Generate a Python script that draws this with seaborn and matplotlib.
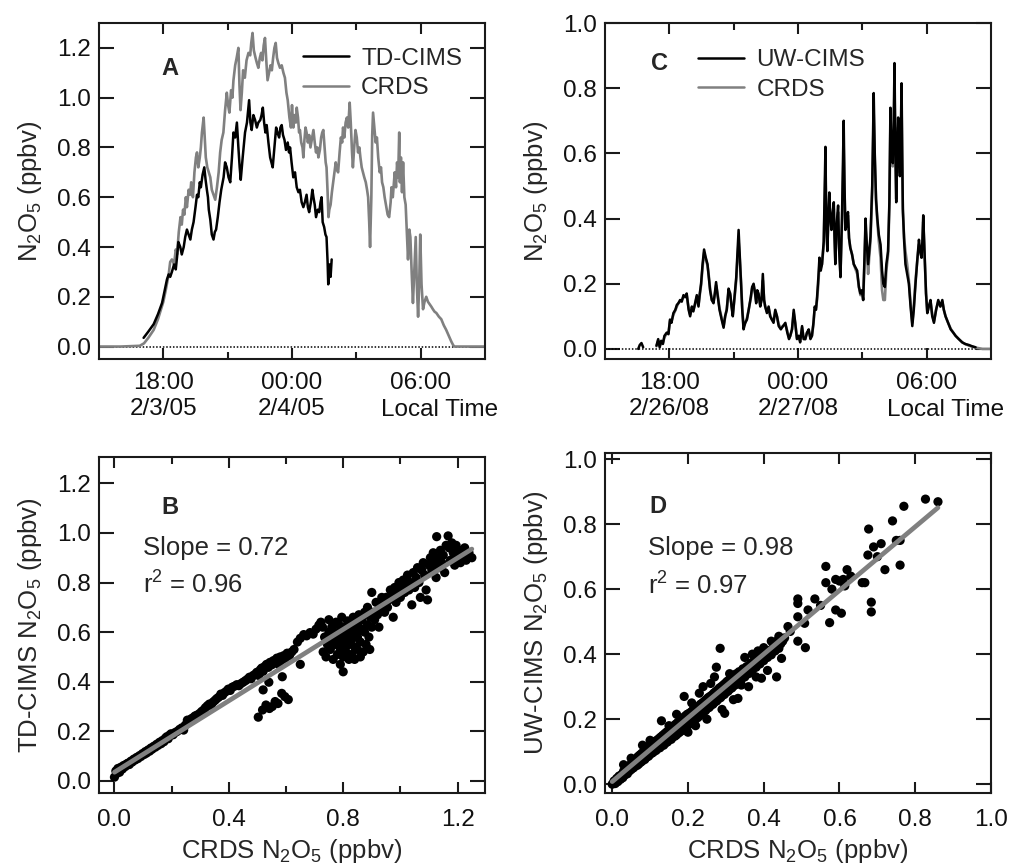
import numpy as np
import pandas as pd
import matplotlib
matplotlib.use("Agg")
import matplotlib.pyplot as plt
from matplotlib.lines import Line2D
from matplotlib.ticker import FormatStrFormatter
import seaborn as sns

sns.set_style("ticks")
plt.rcParams['font.family'] = ['Liberation Sans', 'DejaVu Sans']
plt.rcParams['mathtext.fontset'] = 'custom'
plt.rcParams['mathtext.rm'] = 'Liberation Sans'
plt.rcParams['mathtext.it'] = 'Liberation Sans:italic'
plt.rcParams['mathtext.bf'] = 'Liberation Sans:bold'

# ---------------- data: panel A (hours since 00:00 of 2/3/05, ppbv) ----------------
crds_A = [(15.0,0.0),(16.0,0.0),(16.9,0.003),(17.1,0.013),(17.3,0.035),(17.55,0.067),(17.75,0.11),
 (18.0,0.18),(18.12,0.23),(18.25,0.29),(18.32,0.34),(18.4,0.35),(18.5,0.33),(18.58,0.39),(18.64,0.37),
 (18.72,0.46),(18.8,0.52),(18.86,0.49),(18.92,0.55),(18.98,0.53),(19.05,0.60),(19.1,0.56),(19.18,0.63),
 (19.25,0.61),(19.3,0.66),(19.38,0.60),(19.45,0.70),(19.52,0.76),(19.57,0.78),(19.63,0.72),(19.7,0.76),
 (19.75,0.80),(19.8,0.86),(19.88,0.92),(19.93,0.84),(19.98,0.76),(20.05,0.72),(20.12,0.70),(20.19,0.68),
 (20.26,0.63),(20.34,0.61),(20.42,0.59),(20.5,0.64),(20.58,0.70),(20.65,0.78),(20.72,0.83),(20.8,0.86),
 (20.88,0.95),(20.96,1.02),(21.02,0.97),(21.08,0.94),(21.16,1.03),(21.22,1.00),(21.27,1.07),(21.35,1.13),
 (21.42,1.16),(21.5,1.20),(21.55,1.05),(21.6,0.95),(21.66,1.02),(21.72,1.11),(21.8,1.08),(21.88,1.15),
 (21.97,1.18),(22.05,1.17),(22.1,1.22),(22.16,1.26),(22.22,1.19),(22.3,1.16),(22.36,1.14),(22.43,1.12),
 (22.5,1.16),(22.56,1.18),(22.62,1.15),(22.68,1.21),(22.74,1.24),(22.8,1.15),(22.86,1.07),(22.93,1.10),
 (23.0,1.13),(23.06,1.11),(23.12,1.16),(23.18,1.20),(23.24,1.22),(23.3,1.16),(23.36,1.14),(23.44,1.12),
 (23.52,1.13),(23.6,1.10),(23.67,1.08),(23.74,1.02),(23.8,0.99),(23.88,0.92),(23.95,0.88),(24.0,0.97),
 (24.06,0.88),(24.12,0.93),(24.18,0.90),(24.22,0.96),(24.28,0.92),(24.33,0.86),(24.37,0.87),(24.43,0.82),
 (24.49,0.80),(24.53,0.76),(24.58,0.83),(24.63,0.88),(24.68,0.86),(24.74,0.82),(24.8,0.85),(24.86,0.80),
 (24.92,0.83),(25.0,0.87),(25.06,0.82),(25.12,0.78),(25.18,0.80),(25.23,0.76),(25.3,0.79),(25.36,0.84),
 (25.41,0.86),(25.46,0.87),(25.52,0.80),(25.57,0.74),(25.61,0.72),(25.66,0.62),(25.7,0.52),(25.74,0.55),
 (25.8,0.57),(25.86,0.62),(25.92,0.66),(25.98,0.70),(26.04,0.74),(26.1,0.71),(26.15,0.70),(26.22,0.78),
 (26.28,0.84),(26.34,0.82),(26.38,0.88),(26.44,0.84),(26.5,0.90),(26.56,0.92),(26.62,0.88),(26.69,0.98),
 (26.74,0.90),(26.8,0.78),(26.84,0.72),(26.9,0.80),(26.96,0.87),(27.02,0.84),(27.08,0.78),(27.14,0.80),
 (27.19,0.76),(27.25,0.72),(27.31,0.70),(27.37,0.68),(27.44,0.66),(27.5,0.63),(27.55,0.60),(27.6,0.50),
 (27.64,0.40),(27.7,0.60),(27.74,0.85),(27.78,0.94),(27.84,0.88),(27.9,0.82),(27.96,0.84),(28.02,0.76),
 (28.09,0.70),(28.15,0.72),(28.2,0.66),(28.26,0.64),(28.32,0.60),(28.4,0.56),(28.46,0.53),(28.53,0.52),
 (28.6,0.58),(28.64,0.64),(28.7,0.60),(28.79,0.70),(28.85,0.64),(28.9,0.74),(28.95,0.68),(29.0,0.86),
 (29.03,0.66),(29.08,0.76),(29.13,0.62),(29.18,0.74),(29.24,0.60),(29.3,0.57),(29.36,0.45),(29.41,0.35),
 (29.47,0.47),(29.52,0.44),(29.58,0.30),(29.64,0.175),(29.7,0.30),(29.77,0.44),(29.82,0.25),(29.88,0.12),
 (29.93,0.25),(29.98,0.45),(30.04,0.25),(30.11,0.15),(30.18,0.18),(30.26,0.20),(30.34,0.18),(30.42,0.17),
 (30.5,0.16),(30.57,0.15),(30.65,0.14),(30.73,0.135),(30.85,0.12),(30.96,0.11),(31.08,0.085),(31.19,0.067),
 (31.3,0.045),(31.43,0.02),(31.52,0.005),(31.58,0.0),(33.0,0.0)]

tdcims_A = [(17.08,0.035),(17.3,0.06),(17.55,0.09),(17.75,0.13),(17.94,0.175),(18.05,0.22),(18.17,0.27),
 (18.25,0.29),(18.32,0.28),(18.4,0.30),(18.5,0.33),(18.58,0.31),(18.64,0.36),(18.7,0.42),(18.79,0.40),
 (18.86,0.37),(18.95,0.40),(19.02,0.44),(19.1,0.47),(19.18,0.45),(19.26,0.43),(19.33,0.47),(19.41,0.50),
 (19.5,0.56),(19.57,0.61),(19.63,0.60),(19.7,0.66),(19.75,0.64),(19.83,0.69),(19.91,0.72),(19.97,0.67),
 (20.03,0.63),(20.08,0.60),(20.12,0.55),(20.19,0.51),(20.26,0.45),(20.34,0.43),(20.4,0.46),(20.46,0.47),
 (20.54,0.52),(20.62,0.58),(20.7,0.63),(20.81,0.68),(20.88,0.74),(20.96,0.72),(21.04,0.68),(21.12,0.66),
 (21.2,0.76),(21.27,0.86),(21.35,0.84),(21.43,0.90),(21.5,0.80),(21.56,0.72),(21.61,0.67),(21.7,0.76),
 (21.81,0.86),(21.9,0.90),(22.0,0.99),(22.06,0.90),(22.12,0.87),(22.2,0.93),(22.28,0.91),(22.36,0.88),
 (22.43,0.90),(22.52,0.91),(22.58,0.93),(22.64,0.96),(22.7,0.90),(22.76,0.86),(22.82,0.89),(22.9,0.82),
 (22.98,0.76),(23.04,0.74),(23.1,0.72),(23.18,0.80),(23.26,0.88),(23.32,0.86),(23.4,0.84),(23.46,0.88),
 (23.52,0.89),(23.58,0.85),(23.65,0.83),(23.72,0.79),(23.8,0.82),(23.86,0.78),(23.91,0.80),(23.98,0.74),
 (24.06,0.68),(24.14,0.70),(24.22,0.64),(24.3,0.62),(24.37,0.63),(24.45,0.58),(24.53,0.56),(24.6,0.58),
 (24.68,0.61),(24.74,0.56),(24.8,0.54),(24.88,0.58),(24.95,0.63),(25.0,0.60),(25.06,0.57),(25.12,0.52),
 (25.2,0.55),(25.27,0.54),(25.33,0.58),(25.38,0.60),(25.43,0.50),(25.5,0.48),(25.56,0.45),(25.61,0.44),
 (25.66,0.34),(25.69,0.25),(25.75,0.33),(25.8,0.28),(25.85,0.35)]

# ---------------- data: panel C (hours since 00:00 of 2/26/08, ppbv) ----------------
uwcims_C_seg0 = [(16.55,0.000),(16.62,0.012),(16.7,0.018),(16.78,0.005)]
uwcims_C = [(17.40,0.010),(17.48,0.030),(17.55,0.005),(17.62,0.025),(17.70,0.015),(17.77,0.040),(17.88,0.050),
 (17.96,0.045),(18.03,0.090),(18.10,0.080),(18.19,0.110),(18.28,0.120),(18.35,0.135),(18.42,0.140),(18.50,0.150),
 (18.58,0.145),(18.66,0.165),(18.74,0.160),(18.81,0.170),(18.90,0.120),(18.97,0.100),(19.05,0.130),(19.12,0.115),
 (19.20,0.140),(19.28,0.165),(19.36,0.130),(19.42,0.170),(19.48,0.200),(19.55,0.260),(19.62,0.305),(19.70,0.280),
 (19.78,0.260),(19.84,0.220),(19.90,0.180),(19.98,0.150),(20.06,0.140),(20.12,0.170),(20.18,0.205),(20.26,0.160),
 (20.34,0.120),(20.44,0.090),(20.53,0.065),(20.60,0.100),(20.68,0.120),(20.76,0.185),(20.84,0.170),(20.90,0.130),
 (20.96,0.100),(21.04,0.160),(21.12,0.220),(21.18,0.300),(21.23,0.365),(21.29,0.280),(21.35,0.200),(21.40,0.120),
 (21.46,0.060),(21.54,0.080),(21.62,0.090),(21.70,0.120),(21.80,0.160),(21.86,0.190),(21.93,0.200),(22.00,0.170),
 (22.05,0.140),(22.10,0.180),(22.16,0.170),(22.24,0.130),(22.30,0.150),(22.36,0.230),(22.42,0.150),(22.47,0.130),
 (22.55,0.110),(22.63,0.130),(22.70,0.100),(22.78,0.090),(22.86,0.080),(22.94,0.120),(23.02,0.100),(23.10,0.070),
 (23.20,0.060),(23.30,0.070),(23.41,0.080),(23.50,0.050),(23.58,0.030),(23.64,0.040),(23.72,0.060),(23.80,0.120),
 (23.87,0.080),(23.95,0.030),(24.03,0.040),(24.10,0.020),(24.19,0.070),(24.26,0.030),(24.34,0.030),(24.42,0.050),
 (24.50,0.060),(24.58,0.030),(24.65,0.040),(24.72,0.080),(24.78,0.130),(24.84,0.120),(24.89,0.160),(24.95,0.220),
 (25.00,0.280),(25.06,0.240),(25.12,0.260),(25.20,0.330),(25.28,0.620),(25.32,0.380),(25.37,0.300),(25.42,0.420),
 (25.46,0.480),(25.51,0.400),(25.56,0.365),(25.62,0.420),(25.67,0.450),(25.70,0.350),(25.74,0.260),(25.80,0.380),
 (25.87,0.440),(25.92,0.300),(25.98,0.220),(26.05,0.400),(26.13,0.700),(26.17,0.500),(26.21,0.365),(26.27,0.380),
 (26.33,0.420),(26.38,0.340),(26.44,0.310),(26.52,0.290),(26.60,0.260),(26.68,0.250),(26.76,0.240),(26.84,0.190),
 (26.91,0.170),(26.98,0.180),(27.04,0.150),(27.10,0.280),(27.15,0.400),(27.21,0.320),(27.27,0.260),(27.32,0.300),
 (27.38,0.345),(27.46,0.500),(27.53,0.785),(27.58,0.600),(27.64,0.460),(27.70,0.400),(27.77,0.350),(27.85,0.320),
 (27.92,0.240),(27.98,0.200),(28.05,0.190),(28.12,0.260),(28.20,0.300),(28.26,0.450),(28.31,0.740),(28.36,0.620),
 (28.42,0.570),(28.46,0.680),(28.50,0.877),(28.54,0.620),(28.58,0.450),(28.62,0.600),(28.67,0.710),(28.71,0.600),
 (28.75,0.530),(28.79,0.650),(28.83,0.815),(28.86,0.600),(28.89,0.430),(28.95,0.330),(29.01,0.260),(29.09,0.230),
 (29.17,0.200),(29.25,0.130),(29.33,0.070),(29.40,0.120),(29.48,0.200),(29.56,0.270),(29.64,0.335),(29.70,0.300),
 (29.76,0.280),(29.80,0.330),(29.84,0.410),(29.88,0.330),(29.92,0.260),(29.97,0.170),(30.03,0.110),(30.10,0.130),
 (30.18,0.150),(30.26,0.100),(30.34,0.080),(30.44,0.120),(30.54,0.150),(30.64,0.130),(30.73,0.150),(30.80,0.120),
 (30.88,0.100),(31.00,0.080),(31.12,0.060),(31.24,0.050),(31.35,0.040),(31.50,0.030),(31.66,0.020),(31.80,0.015),
 (31.97,0.012),(32.12,0.008),(32.28,0.005)]

crds_C = [(17.40,0.008),(17.48,0.025),(17.55,0.008),(17.62,0.022),(17.70,0.018),(17.77,0.035),(17.88,0.048),
 (17.96,0.050),(18.03,0.085),(18.10,0.085),(18.19,0.105),(18.28,0.118),(18.35,0.130),(18.42,0.140),(18.50,0.145),
 (18.58,0.150),(18.66,0.160),(18.74,0.158),(18.81,0.165),(18.90,0.125),(18.97,0.105),(19.05,0.125),(19.12,0.120),
 (19.20,0.135),(19.28,0.160),(19.36,0.135),(19.42,0.165),(19.48,0.195),(19.55,0.250),(19.62,0.295),(19.70,0.275),
 (19.78,0.255),(19.84,0.225),(19.90,0.185),(19.98,0.150),(20.06,0.145),(20.12,0.165),(20.18,0.195),(20.26,0.165),
 (20.34,0.125),(20.44,0.095),(20.53,0.070),(20.60,0.095),(20.68,0.125),(20.76,0.175),(20.84,0.165),(20.90,0.135),
 (20.96,0.105),(21.04,0.155),(21.12,0.210),(21.18,0.280),(21.23,0.330),(21.29,0.270),(21.35,0.200),(21.40,0.125),
 (21.46,0.070),(21.54,0.080),(21.62,0.095),(21.70,0.120),(21.80,0.155),(21.86,0.185),(21.93,0.195),(22.00,0.170),
 (22.05,0.145),(22.10,0.175),(22.16,0.165),(22.24,0.135),(22.30,0.150),(22.36,0.210),(22.42,0.150),(22.47,0.130),
 (22.55,0.115),(22.63,0.125),(22.70,0.105),(22.78,0.090),(22.86,0.085),(22.94,0.115),(23.02,0.100),(23.10,0.075),
 (23.20,0.065),(23.30,0.070),(23.41,0.075),(23.50,0.055),(23.58,0.035),(23.64,0.040),(23.72,0.060),(23.80,0.110),
 (23.87,0.080),(23.95,0.035),(24.03,0.040),(24.10,0.025),(24.19,0.065),(24.26,0.035),(24.34,0.030),(24.42,0.050),
 (24.50,0.055),(24.58,0.035),(24.65,0.040),(24.72,0.075),(24.78,0.125),(24.84,0.125),(24.89,0.150),(24.95,0.200),
 (25.00,0.260),(25.06,0.250),(25.12,0.260),(25.20,0.320),(25.28,0.550),(25.32,0.390),(25.37,0.310),(25.42,0.400),
 (25.46,0.450),(25.51,0.400),(25.56,0.370),(25.62,0.410),(25.67,0.430),(25.70,0.350),(25.74,0.270),(25.80,0.370),
 (25.87,0.420),(25.92,0.310),(25.98,0.230),(26.05,0.380),(26.13,0.620),(26.17,0.480),(26.21,0.370),(26.27,0.380),
 (26.33,0.410),(26.38,0.340),(26.44,0.310),(26.52,0.290),(26.60,0.260),(26.68,0.245),(26.76,0.230),(26.84,0.190),
 (26.91,0.165),(26.98,0.175),(27.04,0.150),(27.10,0.260),(27.15,0.370),(27.21,0.300),(27.27,0.230),(27.32,0.280),
 (27.38,0.330),(27.46,0.480),(27.53,0.720),(27.58,0.580),(27.64,0.450),(27.70,0.390),(27.77,0.330),(27.85,0.280),
 (27.92,0.180),(27.98,0.150),(28.05,0.150),(28.12,0.240),(28.20,0.290),(28.26,0.430),(28.31,0.690),(28.36,0.600),
 (28.42,0.560),(28.46,0.650),(28.50,0.800),(28.54,0.610),(28.58,0.460),(28.62,0.590),(28.67,0.680),(28.71,0.600),
 (28.75,0.540),(28.79,0.630),(28.83,0.740),(28.86,0.580),(28.89,0.420),(28.95,0.340),(29.01,0.300),(29.09,0.260),
 (29.17,0.210),(29.25,0.140),(29.33,0.080),(29.40,0.130),(29.48,0.210),(29.56,0.270),(29.64,0.320),(29.70,0.300),
 (29.76,0.280),(29.80,0.320),(29.84,0.390),(29.88,0.330),(29.92,0.260),(29.97,0.170),(30.03,0.110),(30.10,0.130),
 (30.18,0.145),(30.26,0.105),(30.34,0.085),(30.44,0.120),(30.54,0.145),(30.64,0.130),(30.73,0.145),(30.80,0.120),
 (30.88,0.100),(31.00,0.080),(31.12,0.062),(31.24,0.050),(31.35,0.040),(31.50,0.030),(31.66,0.020),(31.80,0.015),
 (31.97,0.010),(32.12,0.007),(32.28,0.004),(32.45,0.002),(32.6,0.0),(33.0,0.0)]

# ---------------- data: panel B scatter (CRDS, TD-CIMS) ----------------
scatter_B = [(0.000,0.015),(0.005,0.040),(0.008,0.030),(0.012,0.050),(0.018,0.035),(0.022,0.055),(0.028,0.048),
 (0.032,0.062),(0.038,0.058),(0.042,0.068),(0.048,0.072),(0.052,0.066),(0.058,0.080),(0.062,0.076),(0.068,0.088),
 (0.072,0.084),(0.078,0.095),(0.082,0.090),(0.088,0.102),(0.092,0.098),(0.098,0.110),(0.103,0.106),(0.108,0.118),
 (0.112,0.112),(0.118,0.125),(0.123,0.120),(0.128,0.133),(0.132,0.128),(0.138,0.140),(0.143,0.136),(0.148,0.148),
 (0.152,0.143),(0.158,0.156),(0.163,0.150),(0.168,0.163),(0.173,0.158),(0.178,0.172),(0.183,0.178),(0.188,0.170),
 (0.193,0.185),(0.198,0.190),(0.205,0.186),(0.212,0.195),(0.220,0.200),(0.228,0.208),(0.236,0.214),(0.242,0.205),
 (0.248,0.225),(0.255,0.245),(0.262,0.238),(0.268,0.250),(0.275,0.255),(0.282,0.262),(0.290,0.266),(0.298,0.272),
 (0.305,0.280),(0.312,0.286),(0.318,0.295),(0.325,0.303),(0.332,0.310),(0.338,0.305),(0.345,0.318),(0.352,0.325),
 (0.358,0.332),(0.365,0.338),(0.372,0.350),(0.378,0.345),(0.385,0.356),(0.392,0.362),(0.398,0.370),(0.405,0.365),
 (0.412,0.378),(0.420,0.382),(0.428,0.388),(0.435,0.384),(0.442,0.392),(0.450,0.398),(0.458,0.404),(0.465,0.410),
 (0.472,0.418),(0.478,0.412),(0.485,0.425),(0.492,0.430),(0.498,0.438),(0.505,0.425),(0.510,0.448),(0.515,0.455),
 (0.520,0.442),(0.526,0.462),(0.532,0.470),(0.538,0.458),(0.544,0.478),(0.550,0.468),(0.556,0.485),(0.562,0.478),
 (0.568,0.495),(0.574,0.470),(0.580,0.500),(0.586,0.488),(0.592,0.505),(0.598,0.495),(0.604,0.515),(0.612,0.505),
 (0.620,0.520),(0.628,0.530),(0.640,0.560),(0.650,0.575),(0.662,0.590),(0.672,0.585),(0.684,0.598),(0.695,0.592),
 (0.705,0.612),(0.715,0.628),(0.722,0.640),(0.728,0.620),
 (0.503,0.257),(0.518,0.286),(0.530,0.306),(0.542,0.292),(0.552,0.300),(0.562,0.320),(0.572,0.312),(0.585,0.353),
 (0.596,0.340),(0.608,0.328),(0.520,0.367),(0.587,0.420),(0.650,0.470),(0.540,0.398),
 (0.73,0.52),(0.735,0.58),(0.74,0.50),(0.745,0.55),(0.75,0.60),(0.75,0.65),(0.755,0.53),(0.76,0.57),(0.76,0.62),
 (0.765,0.49),(0.77,0.55),(0.77,0.60),(0.775,0.64),(0.78,0.51),(0.78,0.56),(0.785,0.585),(0.785,0.63),(0.79,0.47),
 (0.79,0.53),(0.79,0.57),(0.795,0.61),(0.795,0.66),(0.80,0.44),(0.80,0.50),(0.80,0.545),(0.805,0.58),(0.805,0.62),
 (0.81,0.52),(0.81,0.56),(0.815,0.60),(0.815,0.645),(0.82,0.49),(0.82,0.55),(0.825,0.59),(0.825,0.63),(0.83,0.51),
 (0.83,0.57),(0.835,0.61),(0.835,0.66),(0.84,0.49),(0.84,0.54),(0.845,0.60),(0.845,0.64),(0.85,0.53),(0.85,0.58),
 (0.855,0.62),(0.855,0.67),(0.86,0.50),(0.86,0.56),(0.865,0.61),(0.865,0.65),(0.87,0.52),(0.875,0.60),(0.875,0.68),
 (0.88,0.55),(0.885,0.63),(0.885,0.70),(0.89,0.58),(0.893,0.53),(0.895,0.66),(0.90,0.76),
 (0.90,0.62),(0.905,0.68),(0.91,0.65),(0.915,0.72),(0.92,0.67),(0.925,0.62),(0.93,0.70),(0.935,0.74),(0.94,0.72),
 (0.945,0.68),(0.95,0.74),(0.955,0.70),(0.96,0.73),(0.965,0.77),(0.97,0.75),(0.975,0.66),(0.98,0.78),(0.985,0.72),
 (0.99,0.76),(0.995,0.80),(1.00,0.74),(1.005,0.78),(1.01,0.81),(1.015,0.76),(1.02,0.79),(1.025,0.83),(1.03,0.77),
 (1.035,0.80),(1.04,0.71),(1.045,0.84),(1.05,0.78),(1.055,0.82),(1.06,0.86),(1.065,0.80),(1.07,0.74),(1.075,0.85),
 (1.08,0.88),(1.085,0.83),(1.09,0.77),(1.095,0.73),(1.10,0.87),(1.105,0.90),(1.11,0.85),(1.115,0.92),(1.12,0.88),
 (1.125,0.82),(1.127,0.985),(1.13,0.90),(1.135,0.86),(1.14,0.93),(1.145,0.88),(1.15,0.91),(1.155,0.84),(1.16,0.95),
 (1.167,0.988),(1.17,0.94),(1.175,0.89),(1.18,0.96),(1.185,0.92),(1.19,0.87),(1.195,0.95),(1.20,0.90),(1.205,0.93),
 (1.21,0.88),(1.22,0.91),(1.225,0.94),(1.23,0.89),(1.24,0.92),(1.25,0.90)]

# ---------------- data: panel D scatter (CRDS, UW-CIMS) ----------------
scatter_D = [(0.000,0.000),(0.005,0.010),(0.008,0.002),(0.012,0.018),(0.015,0.008),(0.018,0.025),(0.022,0.015),
 (0.025,0.030),(0.028,0.020),(0.030,0.040),(0.033,0.028),(0.036,0.045),(0.040,0.032),(0.042,0.055),(0.045,0.040),
 (0.048,0.060),(0.050,0.045),(0.053,0.065),(0.056,0.050),(0.058,0.070),(0.060,0.055),(0.063,0.075),(0.066,0.058),
 (0.068,0.085),(0.070,0.062),(0.073,0.090),(0.076,0.068),(0.078,0.095),(0.080,0.072),(0.083,0.100),(0.086,0.076),
 (0.088,0.108),(0.090,0.082),(0.093,0.112),(0.096,0.086),(0.098,0.118),(0.100,0.092),(0.103,0.122),(0.106,0.096),
 (0.108,0.128),(0.110,0.100),(0.113,0.132),(0.116,0.104),(0.118,0.135),(0.120,0.110),(0.123,0.140),(0.126,0.112),
 (0.128,0.145),(0.130,0.118),(0.133,0.150),(0.136,0.120),(0.138,0.155),(0.140,0.126),(0.143,0.160),(0.146,0.130),
 (0.148,0.165),(0.150,0.136),(0.153,0.170),(0.156,0.138),(0.158,0.175),(0.160,0.145),(0.163,0.180),(0.166,0.148),
 (0.168,0.185),(0.170,0.152),(0.173,0.190),(0.176,0.158),(0.178,0.195),(0.180,0.162),(0.183,0.200),(0.186,0.166),
 (0.188,0.205),(0.190,0.172),(0.193,0.210),(0.196,0.176),(0.198,0.215),(0.200,0.182),(0.203,0.218),(0.206,0.186),
 (0.208,0.222),(0.210,0.192),(0.213,0.228),(0.216,0.196),(0.218,0.232),(0.220,0.200),(0.223,0.236),(0.226,0.205),
 (0.228,0.240),(0.230,0.210),(0.233,0.246),(0.236,0.214),(0.238,0.250),(0.240,0.220),(0.243,0.255),(0.246,0.226),
 (0.248,0.260),(0.250,0.232),(0.253,0.266),(0.256,0.236),(0.258,0.270),(0.260,0.242),(0.263,0.274),(0.266,0.246),
 (0.268,0.280),(0.270,0.252),(0.273,0.285),(0.276,0.256),(0.278,0.290),(0.280,0.262),(0.283,0.296),(0.286,0.266),
 (0.288,0.300),(0.290,0.272),(0.293,0.305),(0.296,0.276),(0.298,0.310),(0.300,0.282),(0.303,0.316),(0.306,0.286),
 (0.308,0.320),(0.310,0.292),(0.313,0.326),(0.316,0.296),(0.318,0.330),(0.320,0.302),(0.323,0.336),(0.326,0.306),
 (0.328,0.340),(0.330,0.312),(0.335,0.346),(0.340,0.320),(0.345,0.355),(0.350,0.330),(0.355,0.362),(0.360,0.340),
 (0.365,0.372),(0.370,0.350),(0.375,0.382),(0.380,0.360),(0.385,0.390),(0.390,0.370),(0.395,0.398),(0.400,0.380),
 (0.405,0.405),(0.410,0.390),(0.415,0.412),(0.420,0.398),(0.425,0.420),(0.430,0.410),(0.435,0.428),(0.440,0.418),
 (0.445,0.432),(0.450,0.440),
 (0.030,0.060),(0.050,0.080),(0.080,0.120),(0.100,0.135),(0.130,0.195),(0.150,0.180),(0.170,0.215),(0.190,0.270),
 (0.200,0.160),(0.210,0.250),(0.220,0.180),(0.230,0.280),(0.240,0.300),(0.250,0.200),(0.260,0.310),(0.270,0.330),
 (0.275,0.360),(0.285,0.418),(0.290,0.230),(0.297,0.218),(0.310,0.340),(0.320,0.260),(0.332,0.264),(0.341,0.305),
 (0.350,0.390),(0.360,0.300),(0.370,0.400),(0.380,0.330),(0.385,0.410),(0.394,0.326),(0.400,0.420),(0.410,0.350),
 (0.420,0.440),(0.434,0.330),(0.438,0.444),(0.447,0.387),(0.440,0.455),(0.455,0.450),(0.464,0.485),(0.470,0.470),
 (0.490,0.440),(0.490,0.515),(0.490,0.556),(0.490,0.570),(0.508,0.495),(0.510,0.420),(0.517,0.536),(0.535,0.570),
 (0.550,0.550),(0.564,0.620),(0.564,0.670),(0.574,0.497),(0.580,0.600),(0.590,0.536),(0.590,0.630),(0.600,0.625),
 (0.605,0.526),(0.610,0.630),(0.614,0.610),(0.620,0.660),(0.630,0.640),(0.660,0.620),(0.667,0.620),(0.675,0.705),
 (0.677,0.785),(0.684,0.560),(0.684,0.530),(0.690,0.730),(0.700,0.700),(0.710,0.740),(0.720,0.660),(0.740,0.810),
 (0.750,0.750),(0.760,0.674),(0.760,0.750),(0.770,0.855),(0.827,0.877),(0.860,0.869)]

fit_B = {"slope": 0.72, "intercept": 0.035, "r2": 0.96}
fit_D = {"slope": 0.98, "intercept": 0.008, "r2": 0.97}

date_labels_A = ["18:00\n2/3/05", "00:00\n2/4/05", "06:00"]
date_labels_C = ["18:00\n2/26/08", "00:00\n2/27/08", "06:00"]

GRAY = "#808080"
FS_TICK = 17.5
FS_LAB = 18.5
FS_LETTER = 17

fig = plt.figure(figsize=(10.11, 8.63), dpi=100)
W, H = 1011.0, 863.0
axA = fig.add_axes([99/W, 1-359/H, 386/W, 336/H])
axC = fig.add_axes([605/W, 1-359/H, 386/W, 336/H])
axB = fig.add_axes([99/W, 1-793.3/H, 386/W, 336/H])
axD = fig.add_axes([605/W, 1-793.3/H, 386/W, 340/H])


def style(ax, xpad):
    for s in ax.spines.values():
        s.set_linewidth(1.5)
        s.set_color("#1a1a1a")
        s.set_visible(True)
    ax.tick_params(which="both", direction="in", top=True, right=True,
                   color="#1a1a1a", width=1.5, labelsize=FS_TICK, labelcolor="#111111")
    ax.tick_params(axis="y", which="major", length=11, pad=6)
    ax.tick_params(axis="x", which="major", length=8, pad=xpad)
    ax.tick_params(axis="x", which="minor", length=5)
    ax.yaxis.set_major_formatter(FormatStrFormatter("%.1f"))


def df_of(pairs, unit=0):
    d = pd.DataFrame(pairs, columns=["t", "v"])
    d["u"] = unit
    return d


def time_panel(ax, crds, cims_list, cims_label, labels, letter, letter_pos, leg_pos, ylim, yticks):
    ax.axhline(0, color="black", lw=1.1, ls=(0, (1.0, 1.2)), zorder=1)
    sns.lineplot(data=df_of(crds), x="t", y="v", color=GRAY, lw=1.9, estimator=None,
                 sort=False, legend=False, ax=ax, zorder=2)
    cims = pd.concat([df_of(p, i) for i, p in enumerate(cims_list)], ignore_index=True)
    sns.lineplot(data=cims, x="t", y="v", units="u", color="black", lw=1.8, estimator=None,
                 sort=False, legend=False, ax=ax, zorder=3)
    ax.set_xlim(15, 33)
    ax.set_ylim(*ylim)
    ax.set_xticks([18, 24, 30])
    ax.set_xticklabels(labels)
    ax.set_xticks([21, 27], minor=True)
    ax.set_yticks(yticks)
    style(ax, 9.5)
    ax.set_xlabel("")
    ax.set_ylabel(r"N$_2$O$_5$ (ppbv)", fontsize=FS_LAB, labelpad=9)
    ax.text(30.9, -0.152, "Local Time", transform=ax.get_xaxis_transform(),
            ha="center", va="center", fontsize=FS_TICK, color="#111111")
    ax.text(letter_pos[0], letter_pos[1], letter, transform=ax.transAxes, fontsize=FS_LETTER,
            fontweight="bold", ha="center", va="center")
    handles = [Line2D([], [], color="black", lw=1.8), Line2D([], [], color=GRAY, lw=1.8)]
    ax.legend(handles, [cims_label, "CRDS"], loc="upper left", bbox_to_anchor=leg_pos,
              frameon=False, fontsize=FS_TICK, handlelength=1.9, handletextpad=0.5,
              labelspacing=0.3, borderaxespad=0, borderpad=0)


def scatter_panel(ax, pts, fit, letter, letter_pos, text_pos, xlim, ylim, xticks, xminor, yticks, ylab):
    d = pd.DataFrame(pts, columns=["x", "y"])
    sns.scatterplot(data=d, x="x", y="y", color="black", s=44, edgecolor="none", ax=ax, zorder=2)
    fx = np.array([d["x"].min(), d["x"].max()])
    fl = pd.DataFrame({"x": fx, "y": fit["intercept"] + fit["slope"] * fx})
    sns.lineplot(data=fl, x="x", y="y", color=GRAY, lw=3.4, estimator=None, sort=False,
                 legend=False, ax=ax, zorder=3)
    ax.set_xlim(*xlim)
    ax.set_ylim(*ylim)
    ax.set_xticks(xticks)
    if xminor:
        ax.set_xticks(xminor, minor=True)
    ax.set_yticks(yticks)
    style(ax, 11.5)
    ax.xaxis.set_major_formatter(FormatStrFormatter("%.1f"))
    ax.set_xlabel(r"CRDS N$_2$O$_5$ (ppbv)", fontsize=FS_LAB, labelpad=4)
    ax.set_ylabel(ylab, fontsize=FS_LAB, labelpad=9)
    ax.text(letter_pos[0], letter_pos[1], letter, transform=ax.transAxes, fontsize=FS_LETTER,
            fontweight="bold", ha="center", va="center")
    ax.text(text_pos[0], text_pos[1], "Slope = %.2f" % fit["slope"], transform=ax.transAxes,
            fontsize=FS_LAB, ha="left", va="center")
    ax.text(text_pos[0], text_pos[1] - 0.11, r"r$^2$ = %.2f" % fit["r2"], transform=ax.transAxes,
            fontsize=FS_LAB, ha="left", va="center")


time_panel(axA, crds_A, [tdcims_A], "TD-CIMS", date_labels_A, "A", (0.184, 0.866),
           (0.528, 0.926), (-0.05, 1.30), np.round(np.arange(0, 1.21, 0.2), 1))
time_panel(axC, crds_C, [uwcims_C_seg0, uwcims_C], "UW-CIMS", date_labels_C, "C", (0.142, 0.878),
           (0.241, 0.922), (-0.031, 1.0), np.round(np.arange(0, 1.01, 0.2), 1))

scatter_panel(axB, scatter_B, fit_B, "B", (0.184, 0.851), (0.114, 0.729),
              (-0.054, 1.296), (-0.05, 1.305), [0.0, 0.4, 0.8, 1.2], [0.2, 0.6, 1.0],
              np.round(np.arange(0, 1.21, 0.2), 1), r"TD-CIMS N$_2$O$_5$ (ppbv)")
scatter_panel(axD, scatter_D, fit_D, "D", (0.137, 0.844), (0.111, 0.72),
              (-0.019, 1.0), (-0.028, 1.018), np.round(np.arange(0, 1.01, 0.2), 1), None,
              np.round(np.arange(0, 1.01, 0.2), 1), r"UW-CIMS N$_2$O$_5$ (ppbv)")

fig.savefig("out.png", dpi=100, facecolor="white")
